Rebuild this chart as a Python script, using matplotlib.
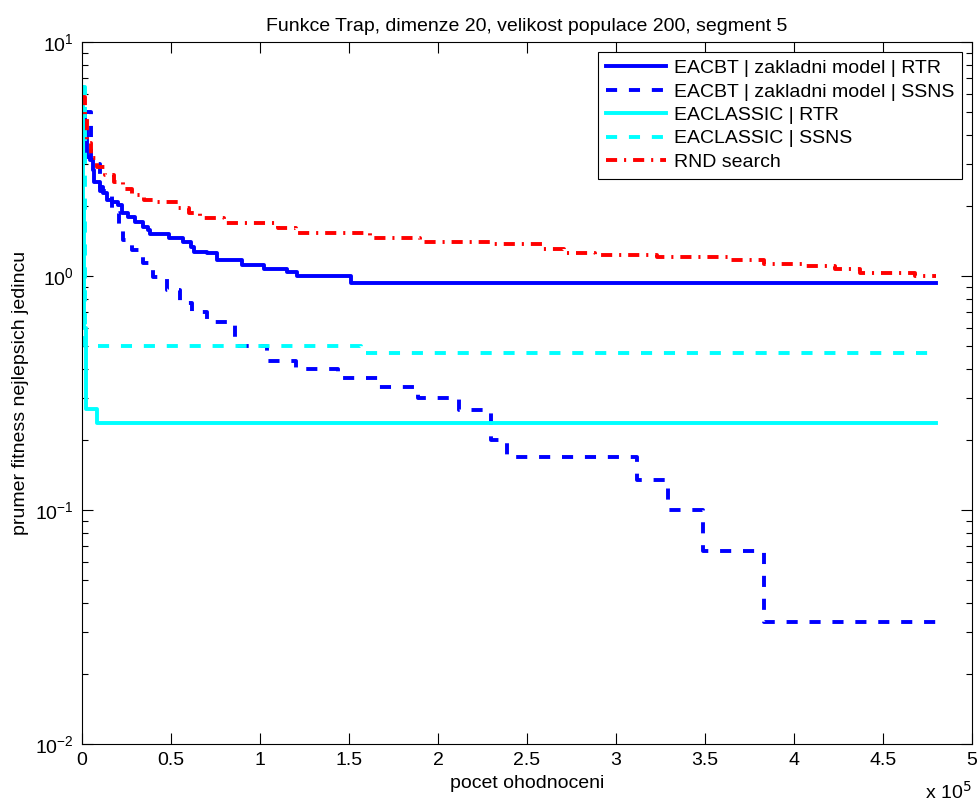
import numpy as np
import matplotlib
matplotlib.use("Agg")
import matplotlib.pyplot as plt
from matplotlib.ticker import FuncFormatter, LogLocator, NullFormatter

plt.rcParams['font.family'] = ['Liberation Sans', 'DejaVu Sans']
plt.rcParams['lines.scale_dashes'] = False

# step curves: evaluations vs. mean best fitness (value holds from x onward)
cbt_rtr_x = [0, 1.7e3, 2.6e3, 4.5e3, 6.0e3, 6.5e3, 1.0e4, 1.2e4, 1.4e4, 1.7e4,
             2.0e4, 2.25e4, 2.6e4, 3.0e4, 3.4e4, 3.7e4, 3.8e4, 4.9e4, 5.7e4,
             6.1e4, 6.3e4, 7.0e4, 7.6e4, 9.0e4, 1.02e5, 1.15e5, 1.21e5, 1.51e5,
             4.8e5]
cbt_rtr_y = [5.0, 4.2, 3.24, 3.13, 2.84, 2.52, 2.40, 2.26, 2.11, 2.07,
             2.01, 1.86, 1.79, 1.70, 1.62, 1.57, 1.51, 1.45, 1.40,
             1.33, 1.27, 1.25, 1.17, 1.11, 1.07, 1.04, 1.0, 0.93,
             0.93]

cbt_ssns_x = [0, 5e3, 1.0e4, 1.7e4, 2.1e4, 2.3e4, 2.8e4, 3.4e4, 4.0e4, 4.8e4,
              5.5e4, 6.2e4, 7.0e4, 8.6e4, 1.04e5, 1.2e5, 1.44e5, 1.67e5, 1.89e5,
              2.12e5, 2.30e5, 2.39e5, 3.12e5, 3.29e5, 3.49e5, 3.83e5, 4.8e5]
cbt_ssns_y = [5.0, 3.0, 2.3, 1.86, 1.57, 1.42, 1.29, 1.14, 0.99, 0.87,
              0.77, 0.70, 0.636, 0.50, 0.433, 0.40, 0.365, 0.334, 0.30,
              0.267, 0.20, 0.168, 0.134, 0.10, 0.0668, 0.0333, 0.0333]

cls_rtr_x = [0, 500, 1200, 2000, 8.3e3, 4.8e5]
cls_rtr_y = [6.4, 2.0, 0.6, 0.27, 0.235, 0.235]

cls_ssns_x = [0, 1.5e3, 1.57e5, 4.8e5]
cls_ssns_y = [6.4, 0.5, 0.467, 0.467]

rnd_x = [0, 1.5e3, 3e3, 5e3, 8.5e3, 1.3e4, 1.8e4, 2.3e4, 2.8e4, 3.5e4, 4.1e4,
         5.4e4, 6.0e4, 6.6e4, 8.0e4, 1.1e5, 1.2e5, 1.62e5, 1.9e5, 2.29e5,
         2.59e5, 2.71e5, 2.88e5, 3.23e5, 3.63e5, 3.83e5, 4.06e5, 4.23e5,
         4.37e5, 4.68e5, 4.8e5]
rnd_y = [5.8, 4.9, 3.7, 3.2, 2.92, 2.70, 2.52, 2.35, 2.22, 2.12, 2.07,
         1.95, 1.85, 1.77, 1.68, 1.60, 1.53, 1.46, 1.40, 1.37,
         1.30, 1.26, 1.23, 1.20, 1.17, 1.13, 1.10, 1.07,
         1.03, 1.0, 1.0]

labels = ['EACBT | zakladni model | RTR', 'EACBT | zakladni model | SSNS',
          'EACLASSIC | RTR', 'EACLASSIC | SSNS', 'RND search']

fs = 14
fig = plt.figure(figsize=(9.79, 8.05), dpi=100)
ax = fig.add_axes([0.0838, 0.0758, 0.909, 0.872])

lw = 2.8
dash = (0, (8, 8.5))
kw = dict(lw=lw, drawstyle='steps-post')
ax.plot(cbt_rtr_x, cbt_rtr_y, color='#0000ff', label=labels[0], **kw)
ax.plot(cbt_ssns_x, cbt_ssns_y, color='#0000ff', ls=dash, label=labels[1], **kw)
ax.plot(cls_rtr_x, cls_rtr_y, color='#00ffff', label=labels[2], **kw)
ax.plot(cls_ssns_x, cls_ssns_y, color='#00ffff', ls=dash, label=labels[3], **kw)
ax.plot(rnd_x, rnd_y, color='#ff0000', ls=(0, (8, 5, 1.5, 5)), label=labels[4], **kw)

ax.set_yscale('log')
ax.set_xlim(0, 5e5)
ax.set_ylim(1e-2, 1e1)
ax.set_xticks(np.arange(0, 5.01e5, 0.5e5))
ax.xaxis.set_major_formatter(FuncFormatter(lambda v, p: '%g' % (v / 1e5)))
ax.yaxis.set_minor_locator(LogLocator(base=10, subs=np.arange(2, 10)))
ax.yaxis.set_minor_formatter(NullFormatter())
ax.tick_params(which='both', direction='in', top=True, right=True,
               labelsize=fs, width=0.8)
ax.tick_params(which='major', length=8, pad=6)
ax.tick_params(which='minor', length=4)

ax.set_title('Funkce Trap, dimenze 20, velikost populace 200, segment 5',
             fontsize=fs, pad=8)
ax.set_xlabel('pocet ohodnoceni', fontsize=fs, labelpad=4)
ax.set_ylabel('prumer fitness nejlepsich jedincu', fontsize=fs, labelpad=4)
ax.text(1.0, -0.052, r'x 10$^5$', transform=ax.transAxes, ha='right', va='top',
        fontsize=fs)

leg = ax.legend(loc='upper right', fontsize=fs, handlelength=3.1,
                fancybox=False, framealpha=1, edgecolor='black',
                borderaxespad=0.5, labelspacing=0.3, handletextpad=0.4,
                borderpad=0.4)
leg.get_frame().set_linewidth(0.8)

fig.savefig('out.png', dpi=100)
